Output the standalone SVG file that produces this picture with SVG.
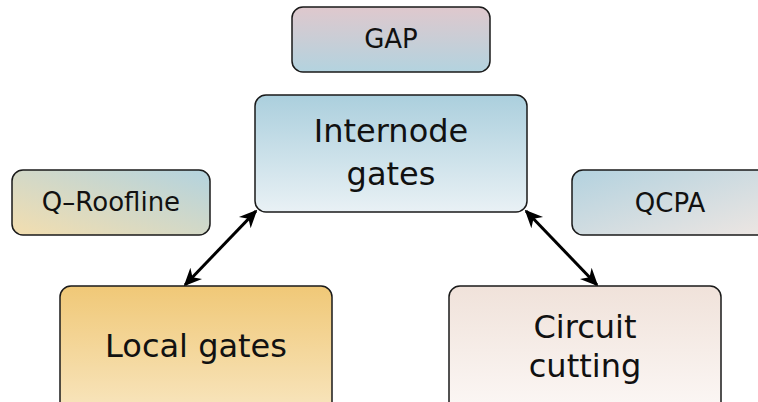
<svg xmlns="http://www.w3.org/2000/svg" width="758" height="402" viewBox="0 0 758 402">
  <defs>
    <linearGradient id="gGap" x1="0" y1="0" x2="0" y2="1">
      <stop offset="0" stop-color="#dfc8cd"/>
      <stop offset="1" stop-color="#b3d3df"/>
    </linearGradient>
    <linearGradient id="gInter" x1="0" y1="0" x2="0" y2="1">
      <stop offset="0" stop-color="#abcfdd"/>
      <stop offset="1" stop-color="#e9f1f5"/>
    </linearGradient>
    <linearGradient id="gRoof" x1="0" y1="1" x2="1" y2="0">
      <stop offset="0" stop-color="#f3deaf"/>
      <stop offset="1" stop-color="#b3d3df"/>
    </linearGradient>
    <linearGradient id="gQcpa" x1="0" y1="0" x2="1" y2="1">
      <stop offset="0" stop-color="#b3d2df"/>
      <stop offset="1" stop-color="#eee6e2"/>
    </linearGradient>
    <linearGradient id="gLocal" x1="0" y1="0" x2="0" y2="1">
      <stop offset="0" stop-color="#f0c877"/>
      <stop offset="1" stop-color="#f8e6c0"/>
    </linearGradient>
    <linearGradient id="gCut" x1="0" y1="0" x2="0" y2="1">
      <stop offset="0" stop-color="#f0e2da"/>
      <stop offset="1" stop-color="#fcf8f6"/>
    </linearGradient>
    <!-- double-ended arrowhead, concave back -->
    <marker id="ah" viewBox="0 0 10 10" refX="9" refY="5" markerWidth="6" markerHeight="6" orient="auto-start-reverse" markerUnits="strokeWidth">
      <path d="M0,0.5 L10,5 L0,9.5 L3,5 Z" fill="#000"/>
    </marker>
  </defs>
  <style>
    .box { stroke: #1a1a1a; stroke-width: 1.5; }
    .lbl { font-family: "DejaVu Sans", Verdana, sans-serif; fill: #111; text-anchor: middle; }
    .sm { font-size: 26px; }
    .lg { font-size: 32px; }
    .conn { stroke: #000; stroke-width: 3; fill: none; marker-start: url(#ah); marker-end: url(#ah); }
  </style>
  <rect width="758" height="402" fill="#fff"/>

  <g id="connectors">
    <line class="conn" x1="256" y1="211" x2="185" y2="285"/>
    <line class="conn" x1="526" y1="211" x2="597" y2="285"/>
  </g>

  <g id="gap">
    <rect class="box" x="292" y="7" width="198" height="65" rx="11" fill="url(#gGap)"/>
    <text class="lbl sm" x="391" y="48">GAP</text>
  </g>

  <g id="internode">
    <rect class="box" x="255" y="95" width="272" height="117" rx="11" fill="url(#gInter)"/>
    <text class="lbl lg" x="391" y="142">Internode</text>
    <text class="lbl lg" x="391" y="185">gates</text>
  </g>

  <g id="qroofline">
    <rect class="box" x="12" y="170" width="198" height="65" rx="11" fill="url(#gRoof)"/>
    <text class="lbl sm" x="111" y="211">Q–Roofline</text>
  </g>

  <g id="qcpa">
    <rect class="box" x="572" y="170" width="200" height="65" rx="11" fill="url(#gQcpa)"/>
    <text class="lbl sm" x="670" y="212">QCPA</text>
  </g>

  <g id="local">
    <rect class="box" x="60" y="286" width="272" height="130" rx="11" fill="url(#gLocal)"/>
    <text class="lbl lg" x="196" y="357">Local gates</text>
  </g>

  <g id="cutting">
    <rect class="box" x="449" y="286" width="272" height="130" rx="11" fill="url(#gCut)"/>
    <text class="lbl lg" x="585" y="338">Circuit</text>
    <text class="lbl lg" x="585" y="377">cutting</text>
  </g>
</svg>
